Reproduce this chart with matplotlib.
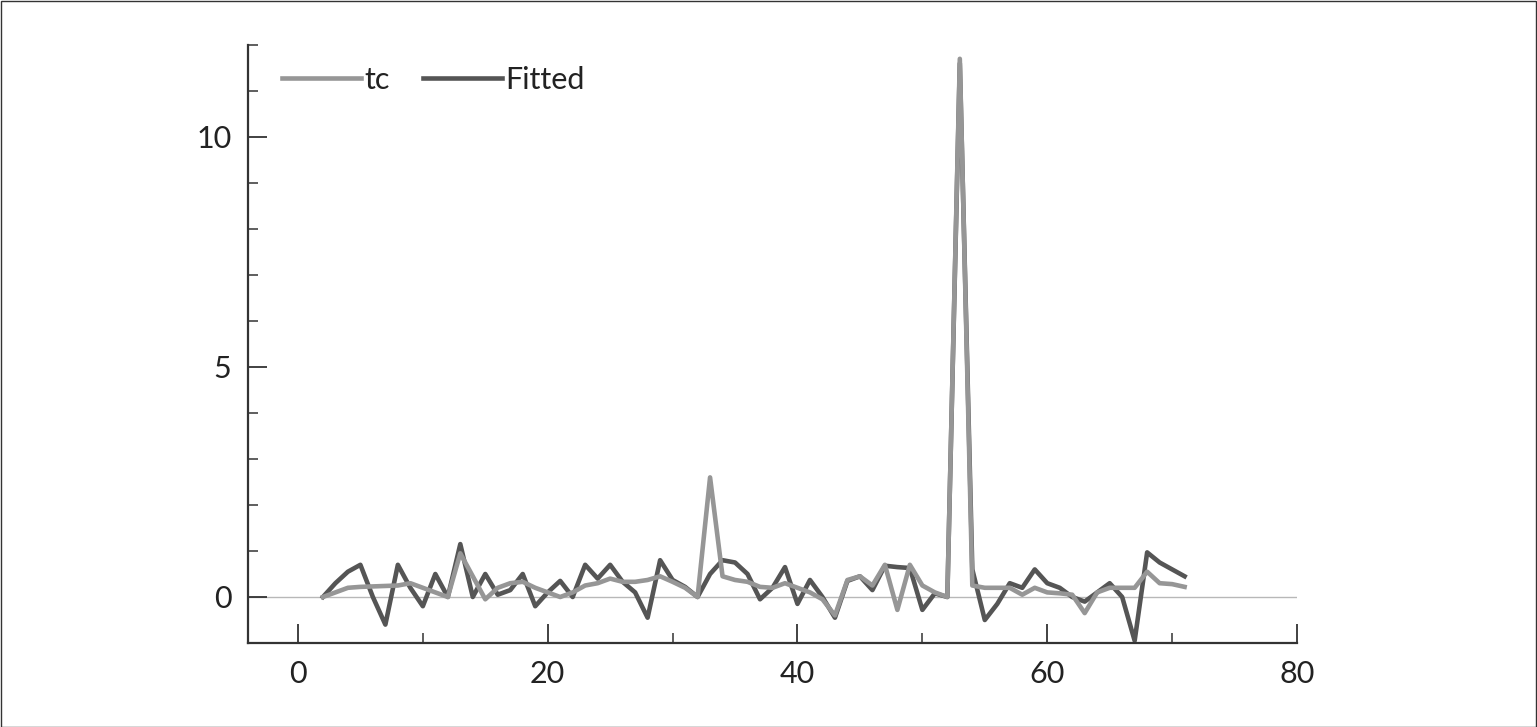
import matplotlib
matplotlib.use("Agg")
import matplotlib.pyplot as plt
from matplotlib.patches import Rectangle
from matplotlib.ticker import MultipleLocator

plt.rcParams['font.family'] = ['Lato', 'DejaVu Sans']

x = list(range(2, 72))
tc = [0.0, 0.1, 0.2, 0.22, 0.23, 0.24, 0.25, 0.3, 0.2, 0.1,
      0.0, 0.95, 0.45, -0.05, 0.2, 0.3, 0.33, 0.2, 0.1, 0.0,
      0.1, 0.25, 0.3, 0.4, 0.33, 0.33, 0.37, 0.45, 0.33, 0.2,
      0.0, 2.6, 0.45, 0.37, 0.33, 0.22, 0.2, 0.3, 0.2, 0.1,
      -0.05, -0.4, 0.37, 0.45, 0.25, 0.7, -0.28, 0.7, 0.25, 0.1,
      0.0, 11.7, 0.25, 0.2, 0.2, 0.2, 0.05, 0.2, 0.1, 0.08,
      0.05, -0.35, 0.1, 0.2, 0.2, 0.2, 0.55, 0.3, 0.28, 0.22]
fitted = [0.0, 0.3, 0.55, 0.7, 0.0, -0.6, 0.7, 0.2, -0.2, 0.5,
          0.0, 1.15, 0.0, 0.5, 0.05, 0.15, 0.5, -0.2, 0.1, 0.35,
          0.0, 0.7, 0.4, 0.7, 0.33, 0.1, -0.45, 0.8, 0.37, 0.22,
          0.0, 0.5, 0.8, 0.75, 0.5, -0.05, 0.2, 0.65, -0.15, 0.37,
          0.0, -0.45, 0.35, 0.45, 0.15, 0.68, 0.65, 0.63, -0.28, 0.08,
          0.0, 11.6, 0.6, -0.5, -0.15, 0.3, 0.2, 0.6, 0.3, 0.2,
          0.0, -0.1, 0.1, 0.3, 0.0, -0.95, 0.97, 0.75, 0.6, 0.45]
x_ticks = [0, 20, 40, 60, 80]
y_ticks = [0, 5, 10]

W, H = 1537, 727
fig = plt.figure(figsize=(W / 100, H / 100), dpi=100)
ax = fig.add_axes([248 / W, 1 - 643 / H, (1297 - 248) / W, (643 - 45) / H])

ax.axhline(0, color='#b8b8b8', linewidth=1.0, zorder=1)
ax.plot(x, fitted, color='#555555', linewidth=3.3, label='Fitted', zorder=2,
        solid_joinstyle='round')
ax.plot(x, tc, color='#969696', linewidth=3.3, label='tc', zorder=3,
        solid_joinstyle='round')

ax.set_xlim(-4, 80)
ax.set_ylim(-1, 12)
ax.set_xticks(x_ticks)
ax.set_yticks(y_ticks)
ax.xaxis.set_minor_locator(MultipleLocator(10))
ax.yaxis.set_minor_locator(MultipleLocator(1))

for s in ['top', 'right']:
    ax.spines[s].set_visible(False)
for s in ['left', 'bottom']:
    ax.spines[s].set_color('#333333')
    ax.spines[s].set_linewidth(1.6)

ax.tick_params(which='major', direction='in', length=14, width=1.3,
               color='#333333', labelsize=22, labelcolor='#222222', pad=12)
ax.tick_params(which='minor', direction='in', length=7, width=1.1,
               color='#333333')

handles, labels = ax.get_legend_handles_labels()
order = [1, 0]
leg = ax.legend([handles[i] for i in order], [labels[i] for i in order],
                loc='upper left', bbox_to_anchor=(0.032, 0.965), ncol=2,
                frameon=False, fontsize=22, handlelength=2.6,
                handletextpad=0.1, columnspacing=1.1, borderpad=0,
                borderaxespad=0)
for t in leg.get_texts():
    t.set_color('#222222')

fig.patches.append(Rectangle((0.5 / W, 0.5 / H), 1 - 1.5 / W, 1 - 1.5 / H,
                             transform=fig.transFigure, fill=False,
                             edgecolor='#333333', linewidth=1.0))

fig.savefig('out.png', dpi=100)
